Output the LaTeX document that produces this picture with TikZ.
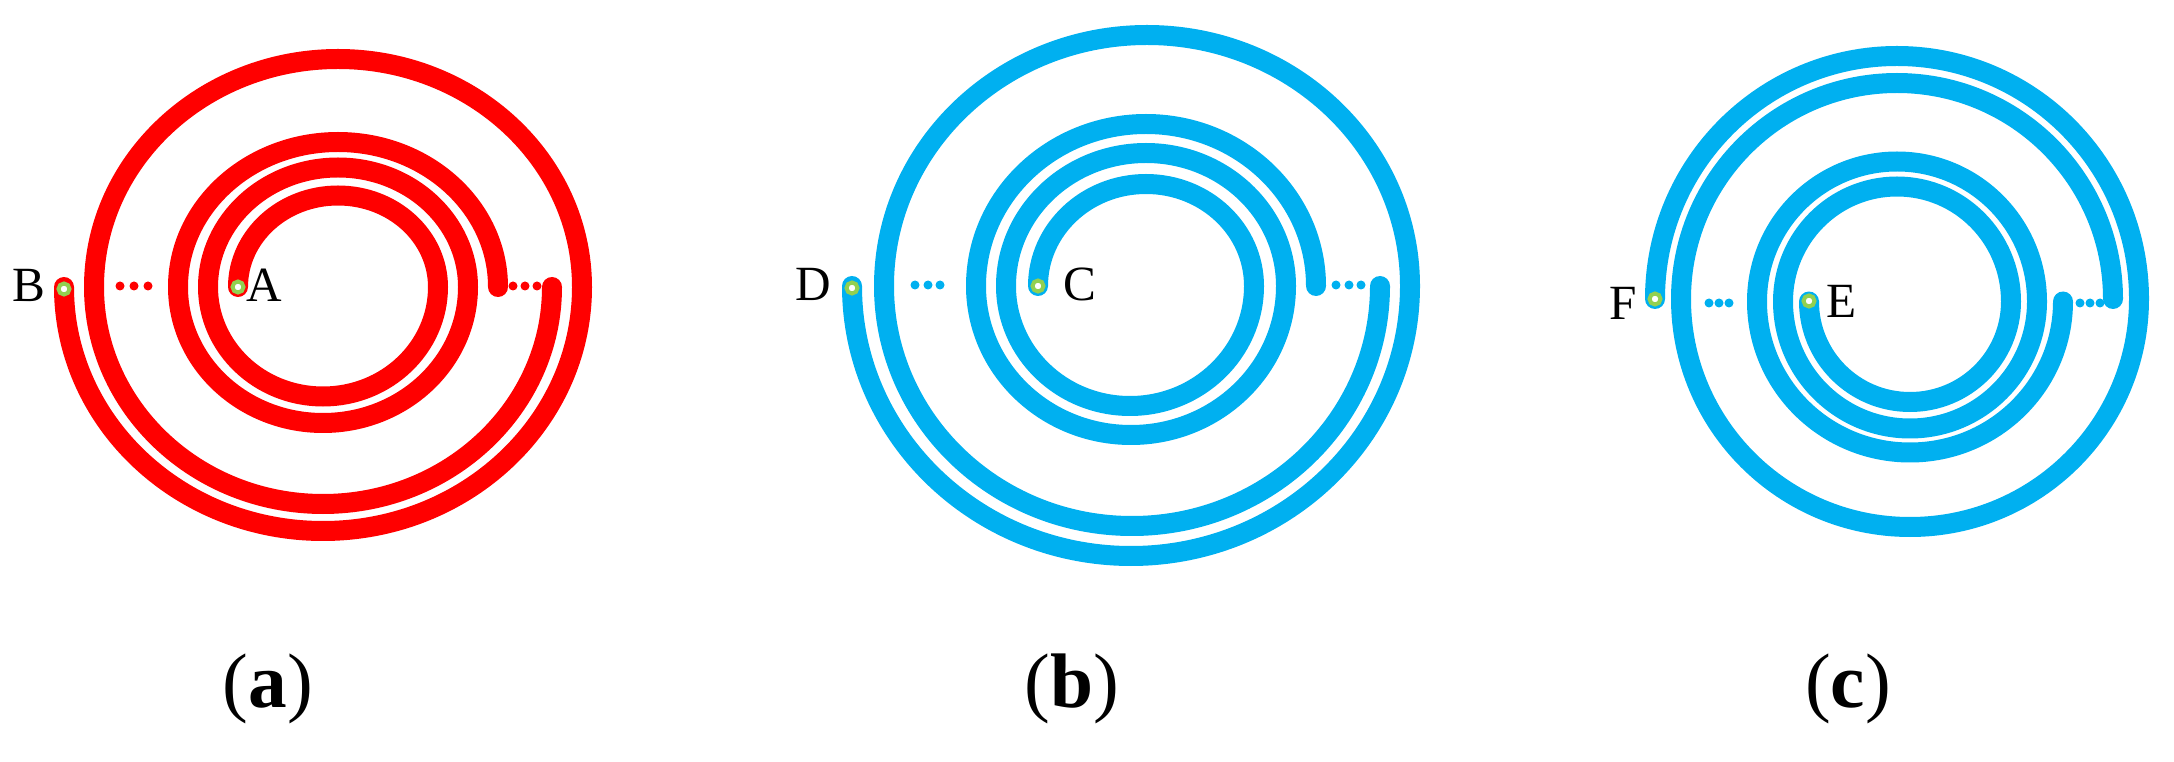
\documentclass[tikz,border=0pt]{standalone}
\usepackage{fontspec}
\setmainfont{Liberation Serif}
\definecolor{cred}{HTML}{FF0000}
\definecolor{cblue}{HTML}{00B0F0}
\definecolor{cgreen}{HTML}{92D050}
\begin{document}
\begin{tikzpicture}[x=0.1mm,y=0.1mm,
  coil/.style={line width=2mm,line cap=round},
  lbl/.style={font=\fontsize{14}{14}\selectfont,inner sep=0pt},
  captxt/.style={font=\fontsize{22}{22}\selectfont,inner sep=0pt},
  pad/.style={fill=white,draw=cgreen,line width=0.4mm}]
\useasboundingbox (0,0) rectangle (2174,761);
% ---------- (a)
\draw[coil,cred] (238,474) arc[start angle=180,end angle=0,x radius=100,y radius=91.5]
  arc[start angle=0,end angle=-180,x radius=115,y radius=109.5]
  arc[start angle=180,end angle=0,x radius=130,y radius=119.5]
  arc[start angle=0,end angle=-180,x radius=145,y radius=136]
  arc[start angle=180,end angle=0,x radius=160,y radius=145];
\draw[coil,cred] (64,474) arc[start angle=-180,end angle=0,x radius=259,y radius=244]
  arc[start angle=0,end angle=180,x radius=244,y radius=228]
  arc[start angle=-180,end angle=0,x radius=229,y radius=217];
\foreach \x in {120,134,148,513,525,537} \fill[cred] (\x,475) circle (4.5);
\draw[pad] (238,474) circle (5.5); \draw[pad] (64,472) circle (5.5);
\node[lbl] (A) at (264,476) {A};
\node[lbl] (B) at (29,476) {B};
\node[captxt] (ca) at (268,72) {(\textbf{a})};
% ---------- (b)
\draw[coil,cblue] (1038,475) arc[start angle=180,end angle=0,x radius=108,y radius=102]
  arc[start angle=0,end angle=-180,x radius=124,y radius=120]
  arc[start angle=180,end angle=0,x radius=140,y radius=133]
  arc[start angle=0,end angle=-180,x radius=155,y radius=149]
  arc[start angle=180,end angle=0,x radius=170,y radius=162];
\draw[coil,cblue] (852,475) arc[start angle=-180,end angle=0,x radius=279,y radius=270]
  arc[start angle=0,end angle=180,x radius=263,y radius=251]
  arc[start angle=-180,end angle=0,x radius=248,y radius=240];
\foreach \x in {915,928,940,1336,1349,1361} \fill[cblue] (\x,476) circle (4.5);
\draw[pad] (1038,475) circle (5.5); \draw[pad] (852,473) circle (5.5);
\node[lbl] (C) at (1080,477) {C};
\node[lbl] (D) at (813,477) {D};
\node[captxt] (cb) at (1072,72) {(\textbf{b})};
% ---------- (c)
\draw[coil,cblue] (1809,459.5) arc[start angle=180,end angle=360,x radius=101,y radius=100.5]
  arc[start angle=0,end angle=180,x radius=114,y radius=115]
  arc[start angle=180,end angle=360,x radius=127,y radius=127]
  arc[start angle=0,end angle=180,x radius=140,y radius=140]
  arc[start angle=180,end angle=360,x radius=153,y radius=151];
\draw[coil,cblue] (1655,462) arc[start angle=180,end angle=0,x radius=242,y radius=243]
  arc[start angle=0,end angle=-180,x radius=229,y radius=228]
  arc[start angle=180,end angle=0,x radius=216,y radius=216];
\foreach \x in {1709,1719,1729,2080,2090,2100} \fill[cblue] (\x,458) circle (4.5);
\draw[pad] (1809,460) circle (5.5); \draw[pad] (1655,462) circle (5.5);
\node[lbl] (E) at (1842,460) {E};
\node[lbl] (F) at (1623,458) {F};
\node[captxt] (cc) at (1848,72) {(\textbf{c})};
\end{tikzpicture}
\end{document}
